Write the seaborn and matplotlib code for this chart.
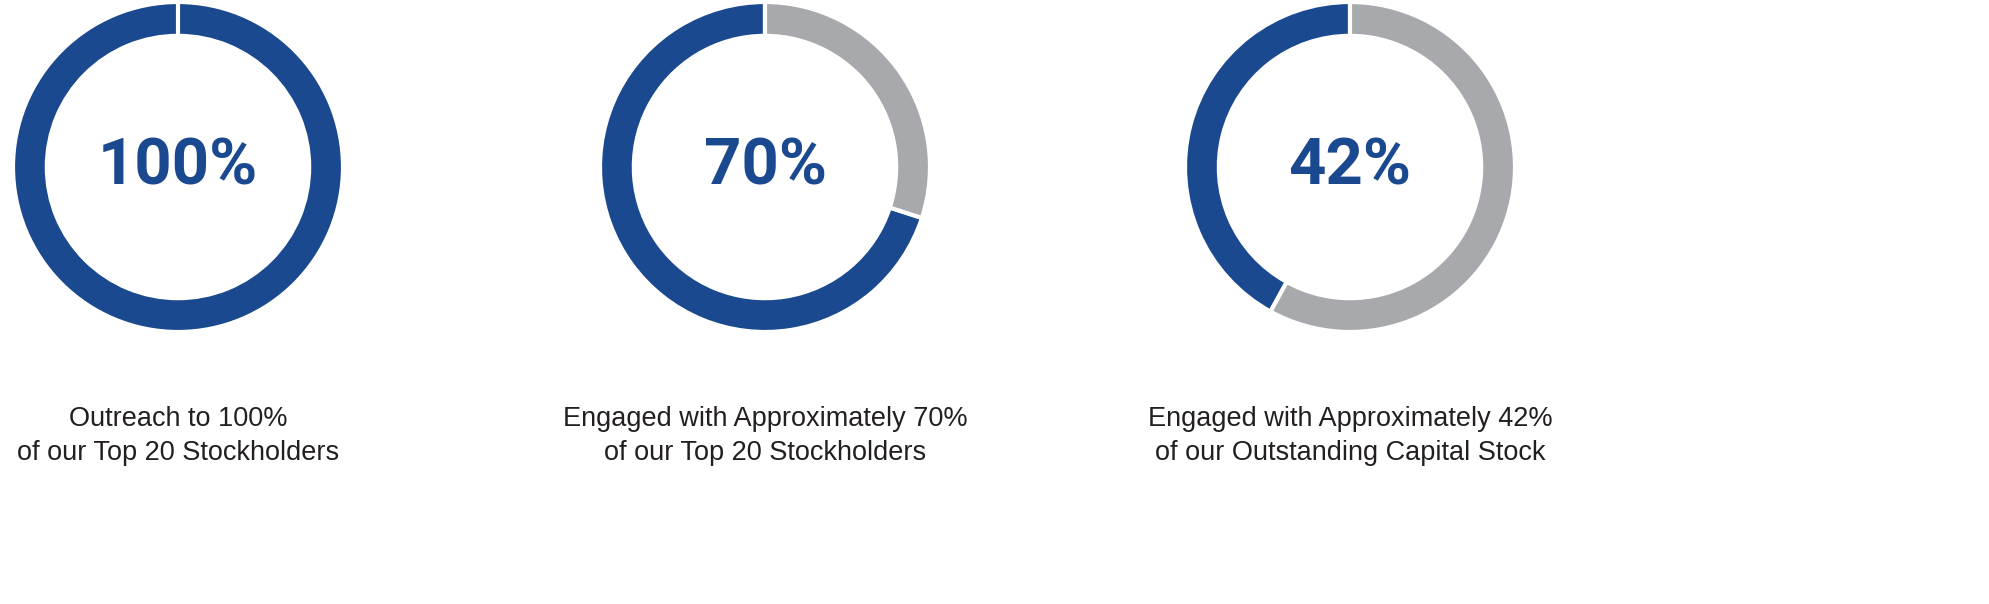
import matplotlib
matplotlib.use("Agg")
import matplotlib.pyplot as plt
import seaborn as sns

sns.set_theme(style="white")
plt.rcParams['font.family'] = ['Roboto', 'DejaVu Sans']

values = [100, 70, 42]
center_labels = ["100%", "70%", "42%"]
captions = ["Outreach to 100%\nof our Top 20 Stockholders",
            "Engaged with Approximately 70%\nof our Top 20 Stockholders",
            "Engaged with Approximately 42%\nof our Outstanding Capital Stock"]
BLUE = "#1b4990"
GRAY = "#a7a9ac"

W, H = 1989, 604
fig = plt.figure(figsize=(W/100, H/100), dpi=100)
centers_x = [178, 765, 1350]
cy, R = 167, 165
for v, lab, cap, cx in zip(values, center_labels, captions, centers_x):
    ax = fig.add_axes([(cx-R)/W, (H-cy-R)/H, 2*R/W, 2*R/H])
    ax.pie([v, 100-v], colors=[BLUE, GRAY], startangle=90, counterclock=True,
           radius=1, wedgeprops=dict(width=0.205, edgecolor="white", linewidth=3))
    ax.set_xlim(-1, 1); ax.set_ylim(-1, 1)
    ax.set_aspect("equal"); ax.axis("off")
    ax.text(0, 0, lab, ha="center", va="center", fontsize=47, fontweight="bold", color=BLUE)
    fig.text(cx/W, 1-436/H, cap, ha="center", va="center", fontsize=19.5,
             family=['Liberation Sans', 'DejaVu Sans'],
             color="#231f20", linespacing=1.35)

fig.savefig("out.png", dpi=100)
